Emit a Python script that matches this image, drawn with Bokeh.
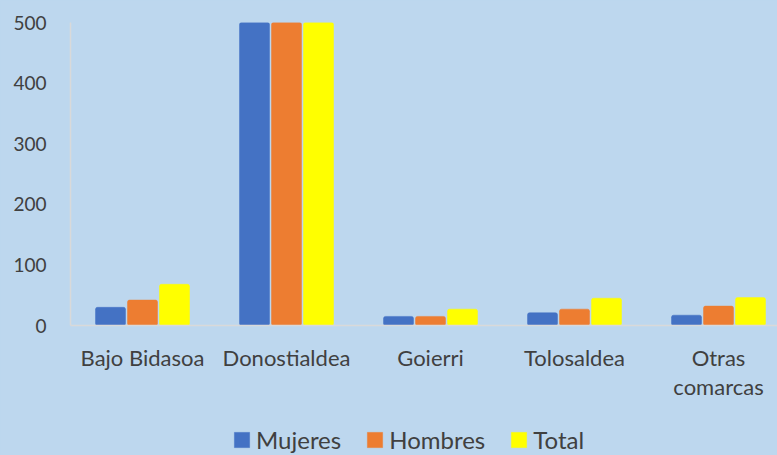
from bokeh.plotting import figure
from bokeh.models import Legend, LegendItem, FixedTicker, Range1d
from bokeh.embed import file_html
from bokeh.resources import INLINE

categories = ["Bajo Bidasoa", "Donostialdea", "Goierri", "Tolosaldea", "Otras\ncomarcas"]
mujeres = [30, 560, 15, 21, 17]
hombres = [42, 600, 15, 27, 32]
total = [68, 1160, 27, 45, 46]
series_names = ["Mujeres", "Hombres", "Total"]
series_colors = ["#4472C4", "#ED7D31", "#FFFF00"]
y_ticks = [0, 100, 200, 300, 400, 500]

BG = "#BDD7EE"
TXT = "#404040"
FONT = "Lato"

centers = [i + 0.5 for i in range(len(categories))]
offsets = [-32 / 144, 0.0, 32 / 144]
bar_w = 30 / 144

# frame: x 70..777, y 22..455 ; value 0 at y=325, 500 at y=22
ppu = 303 / 500
y_lo = -(455 - 325) / ppu

p = figure(width=777, height=455, output_backend="svg", toolbar_location=None,
           x_range=Range1d(0, 707 / 144), y_range=Range1d(y_lo, 500),
           background_fill_color=BG, border_fill_color=BG,
           min_border_left=70, min_border_right=0, min_border_top=22,
           min_border_bottom=0)
p.styles = {"background-color": BG}
p.outline_line_color = None
p.grid.visible = False

renderers = []
for vals, off, col in zip([mujeres, hombres, total], offsets, series_colors):
    xs = [c + off for c in centers]
    r = p.vbar(x=xs, top=vals, width=bar_w, bottom=0, fill_color=col,
               line_color=col, line_width=0.5, border_radius=2)
    renderers.append(r)

p.xaxis.fixed_location = 0
p.xaxis.ticker = FixedTicker(ticks=centers)
p.xaxis.major_label_overrides = {c: lab for c, lab in zip(centers, categories)}
p.yaxis.ticker = FixedTicker(ticks=y_ticks)
p.yaxis.bounds = (0, 500)
for ax in (p.xaxis, p.yaxis):
    ax.axis_line_width = 1.5
    ax.axis_line_color = "#D9D9D9"
    ax.major_tick_line_color = None
    ax.minor_tick_line_color = None
    ax.major_label_text_font = FONT
    ax.major_label_text_color = TXT
p.yaxis.major_label_text_font_size = "19px"
p.xaxis.major_label_text_font_size = "22px"
p.xaxis.major_label_text_line_height = 1.1
p.yaxis.major_label_standoff = 18
p.xaxis.major_label_standoff = 12

legend = Legend(items=[LegendItem(label=n, renderers=[r]) for n, r in zip(series_names, renderers)],
                orientation="horizontal", location=(162, 1),
                glyph_width=19, glyph_height=19, label_standoff=5, spacing=24,
                padding=0, margin=0, border_line_color=None, background_fill_alpha=0,
                label_text_font=FONT, label_text_font_size="24px", label_text_color=TXT)
p.add_layout(legend, "center")

open("out.html", "w").write(file_html(p, INLINE))
